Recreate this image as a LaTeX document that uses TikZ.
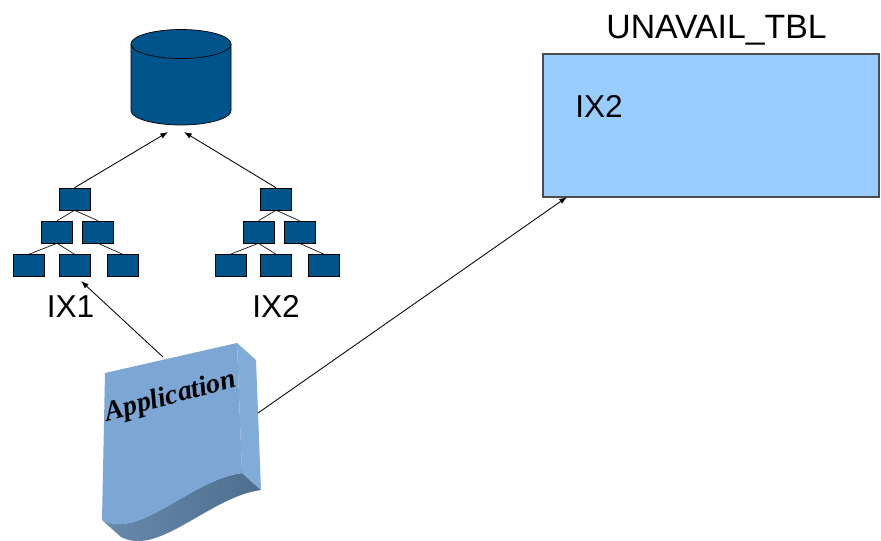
\documentclass[tikz,border=0pt]{standalone}
\usepackage{fontspec}
\setmainfont{Liberation Sans}
\newfontfamily\appfont{Liberation Serif}
\usepackage{tikz}
\usetikzlibrary {arrows.meta}

\definecolor{dbblue}{RGB}{0,84,140}
\definecolor{tblblue}{RGB}{153,204,255}
\definecolor{appfront}{RGB}{124,167,212}
\definecolor{appright}{RGB}{130,172,216}
\definecolor{appdarkl}{RGB}{104,138,172}
\definecolor{appdarkr}{RGB}{78,110,142}

\tikzset{
  ixbox/.style={draw=black, fill=dbblue, line width=0.4pt, inner sep=0pt,
    minimum width=0.775cm, minimum height=0.55cm},
  ixedge/.style={draw=black, line width=0.45pt},
  ptr/.style={draw=black, line width=0.6pt, -{Latex[length=5.5pt,width=4pt]}},
  lbl/.style={font=\fontsize{22.5}{26}\selectfont, inner sep=0pt},
  tblbox/.style={draw=black!70, fill=tblblue, line width=0.8pt, inner sep=0pt,
    minimum width=8.4cm, minimum height=3.575cm}
}

\begin{document}
\begin{tikzpicture}[x=0.025cm, y=0.025cm]
    \useasboundingbox[fill=white] (0,0) rectangle (881,-540);

    % database
    \fill[dbblue] (131,-44) -- (131,-110.5) arc[start angle=180, end angle=360, x radius=50, y radius=14.5] -- (231,-44) -- cycle;
    \draw[line width=0.5pt] (131,-44) -- (131,-110.5) arc[start angle=180, end angle=360, x radius=50, y radius=14.5] -- (231,-44);
    \filldraw[line width=0.5pt, fill=dbblue] (181,-44) ellipse[x radius=50, y radius=14.5];
    \coordinate (dbl) at (168,-132);
    \coordinate (dbr) at (184,-132);

    % index IX1
    \node[ixbox] (ia) at (74.5,-199) {};
    \node[ixbox] (ia1) at (57,-232) {};
    \node[ixbox] (ia2) at (98,-232) {};
    \node[ixbox] (ia11) at (29,-265.5) {};
    \node[ixbox] (ia12) at (74.5,-265.5) {};
    \node[ixbox] (ia21) at (122.5,-265.5) {};
    \draw[ixedge] (ia.south) -- (ia1.north);
    \draw[ixedge] (ia.south) -- (ia2.north);
    \draw[ixedge] (ia1.south) -- (ia11.north);
    \draw[ixedge] (ia1.south) -- (ia12.north);
    \draw[ixedge] (ia2.south) -- (ia21.north);
    \node[lbl, anchor=base] (ixa) at (70.5,-317) {IX1};

    % index IX2
    \node[ixbox] (ib) at (276,-199) {};
    \node[ixbox] (ib1) at (258.5,-232) {};
    \node[ixbox] (ib2) at (299.5,-232) {};
    \node[ixbox] (ib11) at (230.5,-265.5) {};
    \node[ixbox] (ib12) at (276,-265.5) {};
    \node[ixbox] (ib21) at (324,-265.5) {};
    \draw[ixedge] (ib.south) -- (ib1.north);
    \draw[ixedge] (ib.south) -- (ib2.north);
    \draw[ixedge] (ib1.south) -- (ib11.north);
    \draw[ixedge] (ib1.south) -- (ib12.north);
    \draw[ixedge] (ib2.south) -- (ib21.north);
    \node[lbl, anchor=base] (ixb) at (276,-317) {IX2};

    \draw[ptr] (ia.north) -- (dbl);
    \draw[ptr] (ib.north) -- (dbr);

    % table
    \node[tblbox] (tbl) at (711,-125.5) {};
    \node[lbl, anchor=base, font=\fontsize{24}{28}\selectfont] (tblname) at (716.5,-38) {UNAVAIL\_TBL};
    \node[lbl, anchor=base west] (tblix) at (575,-117) {IX2};

    % application
    \shade[left color=appdarkl, right color=appdarkr] (242,-473) .. controls (190,-480) and (140,-540) .. (102,-520)
      -- (121,-537) .. controls (159,-557) and (209,-497) .. (261,-490) -- cycle;
    \fill[appright] (237,-343) -- (256,-360) -- (261,-490) -- (242,-473) -- cycle;
    \fill[appfront] (105,-373) -- (237,-343) -- (242,-473) .. controls (190,-480) and (140,-540) .. (102,-520) -- cycle;
    \node[anchor=base, rotate=15, inner sep=0pt, font=\appfont\bfseries\itshape\fontsize{20}{24}\selectfont] (app) at (172.5,-404) {Application};
    \coordinate (appt) at (163,-357);
    \coordinate (appr) at (258,-413);
    \coordinate (ixat) at (81,-281);
    \coordinate (tblin) at (567,-197);

    \draw[ptr] (appt) -- (ixat);
    \draw[ptr] (appr) -- (tblin);
    \end{tikzpicture}
\end{document}
